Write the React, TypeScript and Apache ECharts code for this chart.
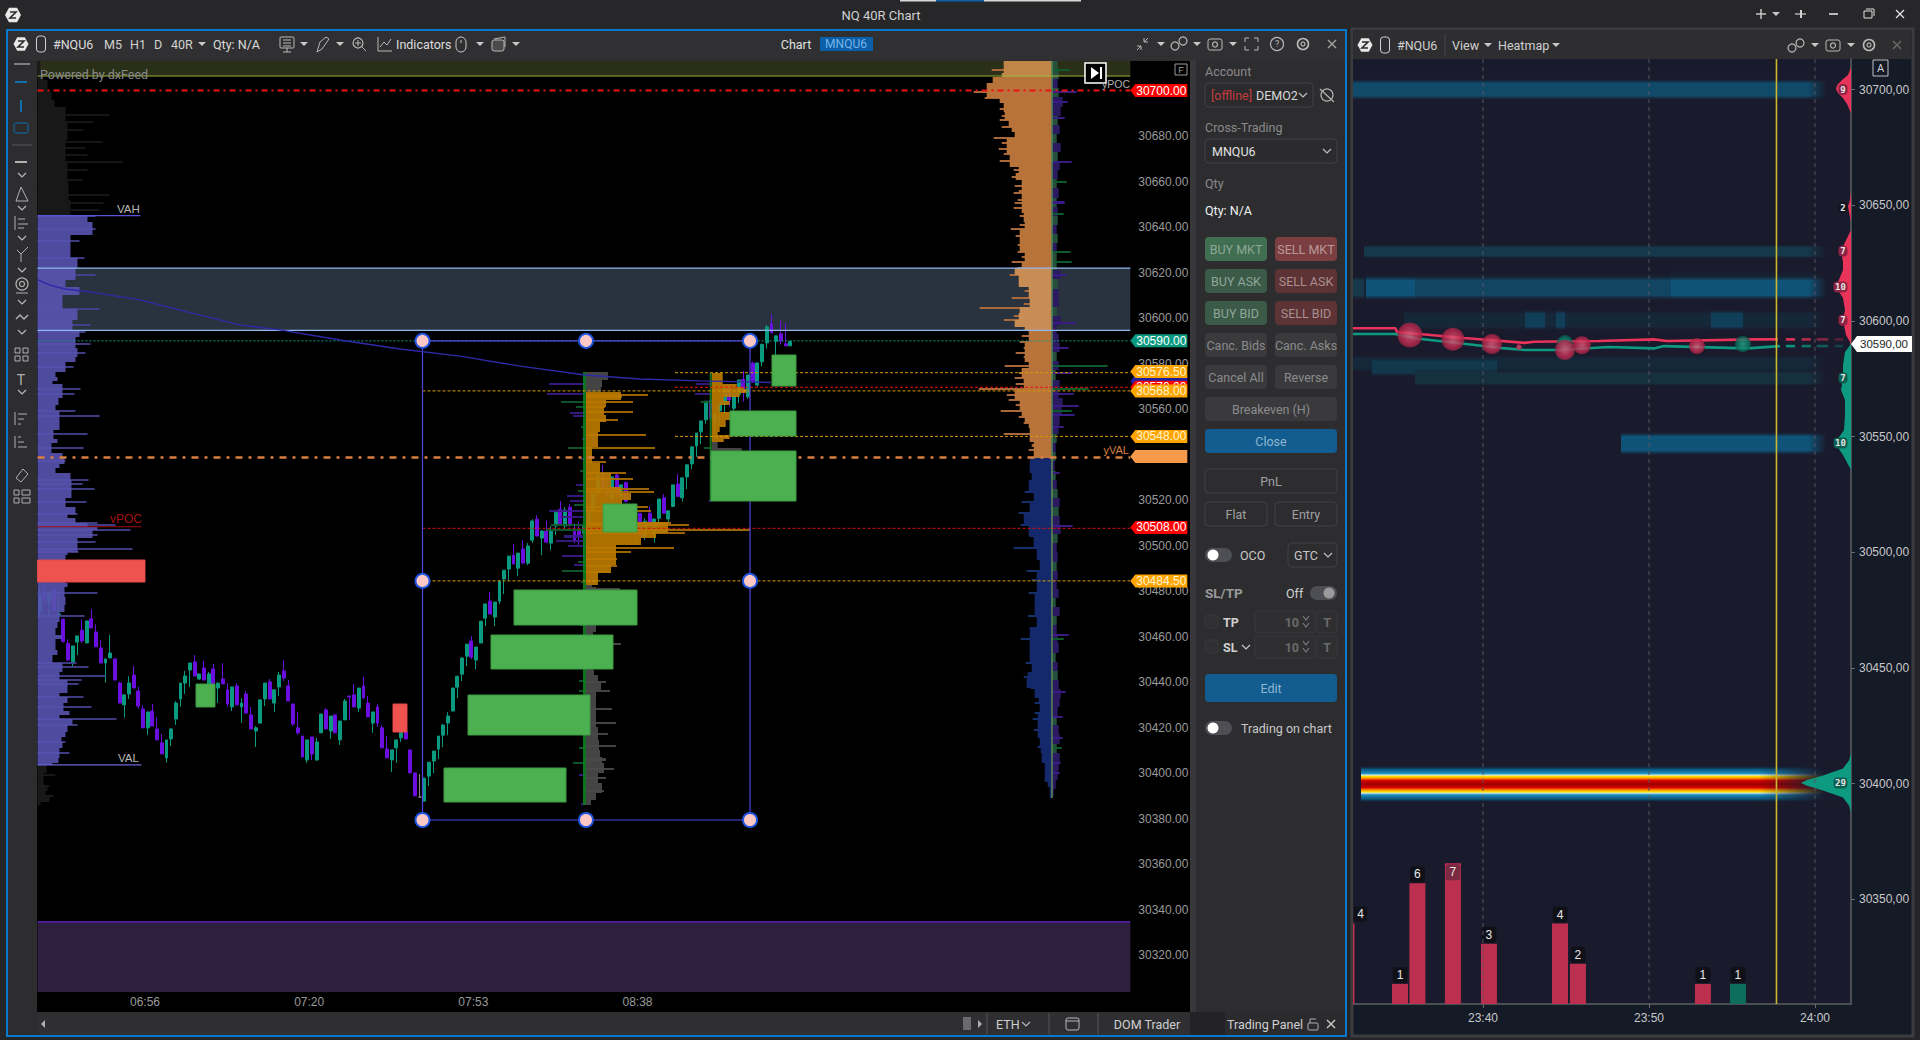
import React, { useEffect, useRef } from "react";
import * as echarts from "echarts";

/* ---------- main chart: candles [open, close, low, high] ---------- */
const candles: number[][] = [
[30471,30477.9,30468.8,30482],[30479,30476.1,30473.9,30483.7],[30475.2,30478.7,30469.5,30479.8],[30480.2,30471.7,30471,30480.8],[30469.7,30470,30468.1,30478.3],
[30467.6,30457.8,30457.4,30468.1],[30457.1,30449.7,30449.4,30458.8],[30448.6,30455.9,30446.5,30455.9],[30457.6,30460.3,30451.9,30460.3],[30462.8,30458.1,30457.1,30467.6],
[30457.2,30466.9,30457.2,30466.9],[30467.8,30463.8,30463.8,30472],[30462,30455.5,30455.5,30465.4],[30455,30448.4,30448.4,30458.5],[30448.4,30450.2,30439.8,30450.2],
[30450.6,30452.8,30450.6,30460.7],[30450.2,30440.9,30440.9,30450.2],[30439.6,30430.8,30430.8,30440.2],[30430,30434.4,30424.4,30434.4],[30434.8,30439.6,30432.6,30442.6],
[30443.1,30437.4,30437.4,30447.1],[30436.1,30429.5,30428.3,30438],[30428.2,30419.9,30419.9,30429.8],[30419.9,30426.9,30416.8,30426.9],[30427.3,30420.7,30420.7,30430.4],
[30419.4,30414.6,30414.6,30424.5],[30413.3,30408.4,30408.4,30417.2],[30406.7,30414.6,30404.6,30414.6],[30415,30419.4,30411.9,30419.7],[30423.8,30430.8,30421.2,30431.7],
[30432.6,30439.6,30429.1,30439.6],[30439.6,30442.7,30434.8,30444.9],[30445.3,30448.4,30437.9,30448.4],[30448.9,30442.7,30442.7,30451.9],[30441.4,30443.6,30440.9,30443.6],
[30446.2,30440.9,30440.9,30449.3],[30438.8,30443.6,30438.8,30444.5],[30445.8,30439.2,30439.2,30448],[30437.4,30439.6,30430.8,30439.6],[30441.4,30439.2,30439.2,30448.4],
[30436.6,30430.4,30429.1,30439.6],[30429.1,30437.9,30427.3,30437.9],[30438.3,30430,30430,30439.6],[30429.1,30430.8,30422,30432.9],[30434.8,30426.4,30426.4,30436.1],
[30425.6,30419.4,30419.4,30429.1],[30418.5,30419.9,30411.5,30420.7],[30422,30432.2,30422,30432.2],[30432.6,30439.6,30429.5,30439.6],[30440.1,30432.6,30432.6,30441.4],
[30430.8,30436.6,30426.9,30436.6],[30437.9,30443.1,30433.9,30444.5],[30444.9,30441.8,30440.5,30449.7],[30438.3,30431.7,30431.7,30440.9],[30430.4,30421.6,30420.7,30430.4],
[30419.9,30417.7,30416.8,30426.9],[30416.3,30407.1,30407.1,30416.3],[30405.8,30414.6,30404.5,30414.6],[30415.9,30408.4,30405.8,30415.9],[30405.8,30413.7,30405.3,30415.5],
[30417.7,30426,30417.7,30426],[30427.8,30419.4,30419.4,30428.6],[30418.5,30425.1,30415,30425.1],[30425.6,30417.7,30417.7,30425.6],[30414.6,30422.9,30412.4,30422.9],
[30423.4,30431.7,30423.4,30432.6],[30433.9,30433.5,30423.4,30433.9],[30434.4,30429.1,30429.1,30439.2],[30428.6,30437.4,30426.9,30437.4],[30438.3,30433,30433,30442.3],
[30430.8,30424.7,30424.7,30433.9],[30422,30426.9,30417.7,30426.9],[30429.1,30422,30420.3,30430.4],[30419.9,30411.1,30411.1,30421.2],[30410.6,30406.7,30406.7,30416.3],
[30405.8,30410.2,30400.5,30410.2],[30411.1,30414.6,30404.5,30414.6],[30415.5,30418.2,30413.7,30418.2],[30418.2,30415,30415,30418.2],[30410.2,30400.1,30400.1,30410.2],
[30400.1,30390,30390,30400.1],[30389.5,30389.5,30389.5,30399.6],[30387.7,30397.8,30387.7,30397.8],[30398.7,30404.8,30394.3,30404.8],[30405.3,30409.7,30400,30409.7],
[30410.6,30416.3,30406.2,30416.3],[30416.7,30421.1,30411.4,30421.6],[30422,30425.1,30416.7,30426.8],[30427.3,30437.4,30427.3,30437.4],[30437.8,30442.6,30433,30442.6],
[30443.5,30450.6,30440.4,30451],[30451.4,30456.7,30447,30456.7],[30458,30451,30450.1,30460.2],[30449.7,30455.4,30445.7,30455.4],[30457.2,30466.8,30457.2,30466.8],
[30468.1,30474.3,30464.6,30474.7],[30475.6,30469.9,30469.9,30479.6],[30468.6,30475.2,30464.6,30475.2],[30475.6,30484.4,30474.3,30484.8],[30485.3,30489.2,30478.7,30489.2],
[30489.7,30495.4,30484.8,30495.4],[30495.8,30491.9,30491.9,30500.7],[30490.1,30496.7,30486.6,30496.7],[30498.5,30492.3,30492.3,30502.4],[30492.3,30499.8,30491.4,30501.1],
[30502.4,30510.8,30501.1,30511.6],[30511.6,30504.2,30504.2,30513.4],[30503.3,30506.4,30495.8,30506.8],[30506.4,30501.5,30501.5,30511.2],[30501.1,30506.8,30498,30508.6],
[30508.6,30514.7,30504.6,30514.7],[30516,30509.5,30509.5,30519.6],[30508.6,30515.6,30507.5,30516.9],[30516.9,30509,30508.3,30518.2],[30506.2,30502.5,30501,30509.8],
[30506.9,30504,30500.3,30510.6],[30505.4,30508.4,30495.2,30508.4],[30506.9,30515.7,30505.4,30515.7],[30516.1,30522.7,30513.5,30522.7],[30524.2,30530.6,30521.6,30532.6],
[30531.8,30525.2,30524.5,30535.5],[30525.2,30521.9,30521.6,30530.6],[30520.7,30530.2,30520.7,30530.2],[30531,30522.7,30521.6,30531.5],[30521.6,30526.7,30518.6,30526.7],
[30527.7,30519.4,30519,30528.2],[30506.9,30514.2,30505.4,30514.2],[30506.2,30509.8,30502.5,30509.8],[30514.2,30504.7,30504.7,30514.2],[30504.3,30510.7,30502.5,30512],
[30514.2,30509.8,30508.4,30517.2],[30504.7,30511.7,30501.3,30511.7],[30512,30520.5,30510.1,30520.5],[30521,30514.2,30514.2,30522.6],[30511.7,30515.3,30510.1,30515.3],
[30517.2,30526.7,30517.2,30526.7],[30527.1,30521.6,30521.6,30531.4],[30521,30529.8,30519.4,30529.8],[30530.2,30535.5,30524.9,30535.5],[30535.9,30543.4,30533.6,30543.4],
[30543.8,30549.5,30539,30549.5],[30550,30554.8,30544.6,30554.8],[30555.3,30563.5,30553.5,30563.5],[30564,30555.7,30555.2,30564.8],[30554.1,30557.8,30546.8,30557.8],
[30559.2,30562.3,30553,30562.3],[30562.3,30569.3,30557.5,30569.3],[30570.6,30564,30561,30570.6],[30560.4,30566,30558.9,30566],[30566.5,30572.8,30562.6,30572.8],
[30573.1,30568.2,30563.3,30576.8],[30565.4,30575,30564.5,30575],[30580.2,30572.1,30571.6,30580.9],[30570.6,30580.3,30569.8,30580.3],[30580.8,30588.5,30578.7,30588.5],
[30589.1,30596.1,30586.6,30597],[30597.5,30593.5,30593.5,30601.8],[30589.8,30592.2,30583.8,30592.2],[30593.1,30590,30588.4,30598.8],[30588.7,30587.8,30587.8,30597.7],
[30587.8,30589.8,30587.8,30589.8],
];
const timeLabels: Record<number, string> = { 22: "06:56", 57: "07:20", 92: "07:53", 127: "08:38" };
const priceTicks = [30680,30660,30640,30620,30600,30580,30560,30520,30500,30480,30460,30440,30420,30400,30380,30360,30340,30320];

/* shaded zones [pTop, pBottom, colour] */
const zones: [number, number, string][] = [
  [30713, 30706.4, "#2a3018"], [30622, 30594.6, "#29333f"], [30334.6, 30303.8, "#2d1f3d"],
];

/* left profile */
const leftGrayBody: [number, number][] = [[30713,3],[30709,6],[30704.7,10],[30699.4,14],[30695.9,17],[30692.8,28],[30686.2,30],[30678.3,28],[30668.6,30],[30660,31],[30652,33]];
const leftGraySpikes: [number, number][] = [[30689.3,72],[30686.2,56],[30682.7,46],[30677.4,65],[30674.8,48],[30671.7,50],[30668.6,85],[30665,50],[30660.7,45],[30654.1,72],[30650.6,66],[30647.5,62]];
const leftBlueBody: [number, number][] = [[30644.9,50],[30642.2,55],[30639.2,55],[30636.5,33],[30630.8,33],[30626.4,40],[30622,38],[30616.7,28],[30613.7,42],[30610.2,25],[30604,40],[30599.2,35],[30594.3,42],[30591.8,38],[30586.7,40],[30583,38],[30580.9,28],[30576.5,18],[30574.3,20],[30572.5,15],[30571,25],[30564.7,21],[30561.8,18],[30559.2,22],[30555.2,22],[30553,22],[30550.8,16],[30546.9,20],[30545,14],[30540.6,25],[30539.1,27],[30535.7,22],[30534.3,18],[30531.8,33],[30528.8,34],[30522.3,34],[30520.8,28],[30517.1,38],[30513.8,30],[30512,38],[30510.1,50],[30508.3,60],[30506.9,55],[30503.5,40],[30500.3,40],[30497.3,30],[30495.9,28],[30483.4,30],[30482,27],[30477.6,28],[30473.9,27],[30471,22],[30466.6,20],[30463.9,18],[30460.7,24],[30458.8,18],[30454.1,20],[30451.9,15],[30448.5,25],[30444.3,22],[30440.9,30],[30435.4,22],[30433.6,30],[30430.7,26],[30427.3,32],[30425.5,22],[30423.6,35],[30421.1,30],[30418.2,28],[30416,24],[30413.8,25],[30410.9,22],[30406.5,21],[30404.6,15]];
const leftBlueSpikes: [number, number][] = [[30644.9,58],[30639.2,58],[30634,42],[30626.4,47],[30618.9,58],[30604,62],[30597,53],[30594,48],[30588.6,53],[30584.8,48],[30578.7,36],[30568.7,43],[30566.6,37],[30559.2,38],[30557,62],[30548.9,50],[30542.8,46],[30537.2,28],[30528.8,51],[30527,45],[30524.8,57],[30519,49],[30513.9,40],[30510.1,60],[30509.1,78],[30506.9,93],[30504.7,60],[30501.7,58],[30498.7,95],[30497.3,41],[30479,60],[30469,47],[30448.5,39],[30446.5,51],[30442.8,68],[30440.9,44],[30439,41],[30433.6,46],[30428.9,54],[30423.6,79],[30421.1,40],[30413.8,28],[30408.7,32]];
const leftLowerBody: [number, number][] = [[30403.6,9],[30400,6],[30396.2,6],[30394.3,10],[30392.3,8],[30390,12],[30387.5,3],[30386,1]];
const leftLowerSpikes: [number, number][] = [[30399.2,18],[30394.3,12],[30390,16]];

/* centre profile 1 */
const c1GrayTop: [number, number][] = [[30576.3,22],[30572.8,16],[30569.6,15]];
const c1Orange: [number, number][] = [[30567.4,35],[30564,20],[30561.1,18],[30557.4,20],[30554.5,14],[30550.1,12],[30546.4,12],[30543.5,6],[30540.6,6],[30536.2,14],[30532.1,25],[30525.9,35],[30523,45],[30520.1,36],[30515.6,45],[30510.5,82],[30505.4,70],[30503.2,55],[30500.3,30],[30495.1,30],[30491.5,25],[30487.8,12]];
const c1OrangeSpikes: [number, number][] = [[30566.2,62],[30565.5,36],[30563.3,47],[30561,19],[30558.9,47],[30555.2,32],[30548.8,60],[30542.8,69],[30536.9,20],[30531.8,40],[30529.3,47],[30524.7,63],[30523.4,68],[30516.8,62],[30515.2,65],[30509.8,85],[30509,103],[30506.9,164],[30505.4,99],[30498.8,88],[30497,45],[30494,31],[30491.2,31],[30488.6,24]];
const c1GrayLow: [number, number][] = [[30482.7,6],[30481.6,10],[30476,12],[30465,10],[30462.2,7],[30445.3,8],[30443,12],[30440.2,15],[30436.5,10],[30429.2,10],[30420.4,12],[30414.6,13],[30410.2,14],[30407.2,16],[30404.3,18],[30399.9,12],[30395.5,16],[30391.1,10],[30388,5]];
const c1GraySpikes: [number, number][] = [[30481,34],[30456.6,35],[30440.2,20],[30436,24],[30428,26],[30422,30],[30417,22],[30412,30],[30406,20],[30402,28],[30398,20],[30392,18]];
const c1Delta: [number, number, string][] = [[30570.9,37,"p"],[30566.5,39,"p"],[30563.3,25,"g"],[30561,10,"g"],[30558.2,16,"p"],[30557,13,"p"],[30552,5,"g"],[30547,4,"p"],[30543.1,18,"g"],[30538,5,"p"],[30533,6,"g"],[30526.7,10,"p"],[30524,8,"g"],[30522,19,"p"],[30519.6,16,"p"],[30518,12,"g"],[30515.2,37,"p"],[30512.7,25,"p"],[30509,35,"g"],[30506.9,40,"g"],[30504,22,"p"],[30502.2,30,"p"],[30500,18,"p"],[30495.6,24,"p"],[30493,8,"g"],[30491.5,12,"p"],[30488.8,24,"g"],[30484,5,"g"],[30465,6,"g"],[30440.5,7,"g"],[30436,7,"g"],[30430,5,"p"],[30420,4,"g"],[30411,7,"g"],[30404.6,13,"g"],[30399,7,"p"],[30393,3,"g"],[30386.5,5,"p"]];

/* centre profile 2 */
const c2Orange: [number, number][] = [[30575.7,11],[30572.8,11],[30570.9,25],[30569.6,32],[30568.7,35],[30567,28],[30565.5,12],[30563.6,18],[30561.8,8],[30558.9,20],[30555.2,14],[30552.3,8],[30550.1,6],[30548.6,18],[30546.7,12]];
const c2Gray: [number, number][] = [[30545.5,6],[30542.8,30],[30541.7,8],[30530,6]];
const c2Delta: [number, number, string][] = [[30570.9,16,"p"],[30566.5,17,"p"],[30563.3,11,"g"],[30560,3,"p"],[30556,3,"p"],[30542.8,8,"g"],[30519.6,3,"p"]];

/* right profile */
const rightBody: [number, number][] = [[30713,48],[30707.6,50],[30706.1,59],[30703.2,65],[30696.6,52],[30694.4,48],[30690.7,47],[30687.1,43],[30684.2,40],[30682,37],[30679,45],[30671.7,42],[30666.6,33],[30663.6,36],[30660.7,30],[30646,28],[30642.4,27],[30639,32],[30628.9,27],[30624.8,30],[30622,37],[30619,33],[30613.8,23],[30608.7,22],[30605,32],[30602.1,33],[30599.2,37],[30596.2,27],[30594.6,23],[30589.6,27],[30580.8,23],[30577.9,30],[30573.5,28],[30568.7,37],[30564,32],[30559.2,30],[30556.7,27],[30553.8,23],[30551.5,22],[30545.7,18],[30538.7,22],[30531.8,20],[30528.8,23],[30523.7,18],[30519.3,22],[30514.2,28],[30509,23],[30504.2,18],[30498.8,15],[30493.7,12],[30489,15],[30479,17],[30469,15],[30464.4,22],[30453.4,22],[30448.5,20],[30444.6,24],[30442.1,25],[30437.3,17],[30432.9,13],[30430.7,12],[30426.3,14],[30415.3,12],[30411.6,11],[30408.7,10],[30404.3,7],[30399.2,7],[30396.2,4],[30394,2]];
const rightSpikes: [number, number][] = [[30709,60],[30699.2,78],[30696.6,67],[30692,52],[30689,50],[30687.1,52],[30684.2,50],[30679,58],[30677,50],[30674.2,53],[30672,48],[30669.2,52],[30665,38],[30662,40],[30658.2,37],[30656,33],[30654.8,38],[30652,34],[30650.4,37],[30648.2,38],[30645,32],[30641,32],[30639,41],[30636,36],[30632,34],[30628.9,34],[30627,30],[30624.8,40],[30622,34],[30619,42],[30616,30],[30612,27],[30608.7,40],[30606,28],[30604.3,72],[30601,38],[30599.2,48],[30597,32],[30592,30],[30589.6,32],[30587,28],[30584.5,36],[30583,28],[30579,47],[30576,33],[30573.5,37],[30571,36],[30568.7,73],[30566.2,45],[30564,43],[30562,36],[30559.2,51],[30556.7,33],[30554,28],[30549,48],[30547,22],[30544,20],[30542,23],[30523.7,27],[30519.3,30],[30514.2,33],[30509,31],[30504.2,22],[30498.8,38],[30489,25],[30484.9,20],[30479,23],[30469,24],[30458.8,31],[30448.5,26],[30442.1,28],[30437.3,21],[30430.7,17],[30426.3,17],[30423.6,19],[30418.9,18],[30411.6,14]];
const rightDelta: [number, number, string][] = [[30713,6,"g"],[30709,7,"g"],[30705,6,"p"],[30701,7,"g"],[30697,11,"p"],[30693,9,"p"],[30689,6,"g"],[30685,8,"p"],[30681,5,"g"],[30677,9,"p"],[30673,6,"g"],[30669,8,"p"],[30665,6,"p"],[30661,5,"g"],[30657,7,"p"],[30653,5,"g"],[30649,6,"p"],[30645,6,"g"],[30641,5,"p"],[30637,6,"g"],[30633,5,"p"],[30629,5,"g"],[30625,5,"g"],[30621,9,"p"],[30617,6,"g"],[30613,7,"p"],[30609,7,"p"],[30605,5,"g"],[30601,9,"p"],[30597,5,"p"],[30593,7,"p"],[30589,8,"p"],[30585,5,"g"],[30581,7,"p"],[30577,4,"g"],[30573,8,"p"],[30569,7,"p"],[30565,11,"p"],[30561,10,"p"],[30557,8,"p"],[30553,7,"p"],[30549,5,"g"],[30545,4,"p"],[30541,4,"g"],[30537,3,"p"],[30533,4,"g"],[30529,5,"p"],[30525,6,"g"],[30521,8,"p"],[30517,7,"g"],[30513,8,"p"],[30509,9,"p"],[30505,6,"g"],[30501,5,"p"],[30497,6,"p"],[30493,5,"g"],[30489,6,"p"],[30485,5,"p"],[30481,7,"p"],[30477,4,"g"],[30473,8,"p"],[30469,5,"g"],[30465,5,"p"],[30461,6,"p"],[30457,7,"p"],[30453,4,"g"],[30449,6,"p"],[30445,6,"g"],[30441,7,"p"],[30437,9,"p"],[30433,8,"p"],[30429,6,"p"],[30425,5,"g"],[30421,7,"p"],[30417,8,"p"],[30413,5,"g"],[30409,8,"p"],[30405,7,"p"],[30401,6,"p"],[30397,4,"p"],[30393,2,"p"],[30390,1,"p"]];
const rightDeltaSpikes: [number, number, string][] = [[30709,18,"g"],[30699.2,25,"p"],[30695,16,"p"],[30688,13,"p"],[30668.8,20,"p"],[30660,15,"g"],[30650.8,13,"p"],[30645.7,12,"g"],[30629,19,"g"],[30624.8,20,"g"],[30619,15,"p"],[30598,24,"p"],[30586.7,17,"p"],[30579,56,"g"],[30576,20,"p"],[30568.7,37,"g"],[30566.5,22,"p"],[30561.4,27,"p"],[30559.2,20,"g"],[30557.4,23,"p"],[30552.3,12,"p"],[30531.8,8,"p"],[30508.8,21,"p"],[30460.7,17,"p"],[30458.8,12,"g"],[30435.8,14,"p"],[30424.8,11,"p"],[30415.3,11,"p"],[30411,10,"g"],[30404.6,9,"p"],[30399.9,8,"p"]];

const boxes: [number, number, number, number, string][] = [
  [734.5,758.5,30583.8,30570.2,"g"],[692.5,758.5,30559.2,30548.2,"g"],[673.5,758.5,30541.6,30519.6,"g"],[565.5,599.5,30518.3,30506,"g"],
  [476.5,599.5,30480.5,30465.1,"g"],[453.5,575.5,30460.7,30445.8,"g"],[430.5,552.5,30434.3,30416.7,"g"],[406.5,528.5,30402.2,30387.3,"g"],
  [158.5,177.5,30439.1,30429,"g"],[355.5,369.5,30430.4,30418,"r"],[0,107.5,30493.7,30484,"r"],
];
const vwap: [number, number][] = [[0.5,30616.8],[12.5,30614.5],[27.5,30612.8],[52.5,30611.5],[102.5,30608],[142.5,30603.5],[202.5,30597],[242.5,30594.8],[302.5,30590.4],[362.5,30586.4],[422.5,30583.3],[482.5,30578.9],[547.5,30575],[602.5,30573.2],[662.5,30572.4],[733.5,30571.7]];
/* segments [x0, p0, x1, p1, colour, width, dash] */
const FW = 1092.8;
const ORG = "#d99a00", RED = "#ee1111", SEL = "#4f46e5";
const segments: any[][] = [
  [0,30706.4,FW,30706.4,"#9ab23c",1,0],[0,30622,FW,30622,"#8fb8ee",1.2,0],[0,30594.6,FW,30594.6,"#8fb8ee",1.2,0],[0,30334.6,FW,30334.6,"#6d1fd8",1.2,0],
  [0,30700,FW,30700,RED,2,[6,4,2,4]],[0,30590,FW,30590,"#0e9a80",1,[2,2]],
  [637.5,30576,FW,30576,ORG,1,[3,2]],[637.5,30569.6,FW,30569.6,RED,1,[3,2]],[385,30568,FW,30568,ORG,1,[3,2]],[637.5,30548,FW,30548,ORG,1,[3,2]],
  [0,30538.7,FW,30538.7,"#d98040",2.5,[7,6,3,6]],[385,30507.6,FW,30507.6,"#d01010",1,[3,2]],[385,30484.5,FW,30484.5,ORG,1,[3,2]],
  [0,30645,103,30645,"#5a55d8",1.2,0],[0,30403.6,104,30403.6,"#6a65d8",1.2,0],[0,30508.3,104,30508.3,"#a00c0c",1.2,0],
  [385,30590,712.5,30590,SEL,1.2,0],[385,30379.4,712.5,30379.4,SEL,1.2,0],[385,30590,385,30379.4,SEL,1.2,0],[712.5,30590,712.5,30379.4,SEL,1.2,0],
];
const handles: number[][] = [[385,30590],[548.5,30590],[712.5,30590],[385,30484.5],[712.5,30484.5],[385,30379.4],[548.5,30379.4],[712.5,30379.4]];
const priceTags: [number, string, string, string][] = [
  [30700,"30700.00","#ff0000","#ffffff"],[30590,"30590.00","#0a9a80","#ffffff"],[30572.2,"","#2020a0","#ffffff"],[30569.6,"30570.00","#ff0000","#ffffff"],
  [30576.5,"30576.50","#ffa500","#fff3d0"],[30568,"30568.00","#ffa500","#fff3d0"],[30548,"30548.00","#ffa500","#fff3d0"],[30539.2,"","#f59a4a","#ffffff"],
  [30508,"30508.00","#ff0000","#ffffff"],[30484.5,"30484.50","#ffa500","#fff3d0"],
];

/* heatmap panel */
const heatTicks = [30700,30650,30600,30550,30500,30450,30400,30350];
const heatTimes = [1420,1430,1440];
const heatBands: [number, number, number, number, string][] = [
  [0,472,30705,30695,"#104a68"],[11,472,30633.3,30626.6,"#15384a"],[11,318,30622,30607.2,"#162233"],[318,472,30623,30609,"#162233"],
  [0,11,30620,30608.5,"#16384a"],[13,62,30620,30608.5,"#0f5478"],[62,318,30620,30608.5,"#114562"],[318,472,30620,30608.5,"#0f5478"],
  [51,472,30605.2,30595.5,"#15283a"],[172,192,30605.2,30595.5,"#113f5a"],[203,212,30605.2,30595.5,"#113f5a"],[358,390,30605.2,30595.5,"#113f5a"],
  [0,472,30585.7,30577.4,"#15283a"],[19,144,30584.5,30575.6,"#12384e"],[62,472,30579.2,30571.3,"#16303f"],[268,472,30552.4,30541.5,"#0f5478"],
];
const bigBand: [number, number, number, number] = [8,482,30407.5,30392];
const bidLine: [number, number][] = [[1412.17,30596.8],[1414.73,30596.8],[1414.82,30595.2],[1418.86,30592.6],[1422.53,30590.5],[1423.07,30591],[1426.99,30591.3],[1430.3,30592],[1431.08,30591.3],[1436.33,30592],[1437.77,30592]];
const askLine: [number, number][] = [[1412.17,30594.3],[1414.7,30594.3],[1416,30592.4],[1418.98,30590],[1421.2,30588.2],[1422.53,30587.4],[1424.76,30587.4],[1427.53,30588.7],[1430.3,30588.1],[1430.9,30589.1],[1435.9,30588.1],[1437.89,30589.1]];
/* fading dashes after the last quote: [t0, t1, opacity] */
const tailDashes: [number, number, number][] = [[1438.25,1438.8,0.95],[1439.2,1439.75,0.75],[1440.1,1440.8,0.5],[1441.2,1441.7,0.3]];
const bidTailPrice = 30592, askTailPrice = 30589.1;
const bubbles: [number, number, number, string][] = [
  [1415.6,30593.9,25,"r"],[1418.19,30592.1,23,"r"],[1420.54,30590,20,"r"],[1422.17,30588.7,6,"r"],[1424.94,30590.4,16,"g"],[1424.94,30587.4,20,"r"],[1425.96,30589.5,18,"r"],[1432.89,30589.1,16,"r"],[1435.66,30590,16,"g"],
];
const edgeBar: [number, number] = [1412.17, 4];
const tradeBars: [number, number, string][] = [[1415,1,"r"],[1416.05,6,"r"],[1418.19,7,"r"],[1420.36,3,"r"],[1424.64,4,"r"],[1425.72,2,"r"],[1433.25,1,"r"],[1435.36,1,"g"]];
const domAsk1: [number, number][] = [[30709.7,0],[30706.3,3],[30704.1,9],[30701.9,14],[30700.2,15],[30698.5,13],[30696.3,8],[30693.7,4],[30689.8,0]];
const domAsk2: [number, number][] = [[30656.6,0],[30652.2,1],[30649.6,3],[30647,2],[30642.7,0]];
const domAsk3: [number, number][] = [[30639.3,0],[30634.9,5],[30630.2,10],[30625.4,8],[30622,8],[30614.6,15],[30609.9,8],[30604.7,6],[30600.3,8],[30593.9,5],[30590,0]];
const domBid1: [number, number][] = [[30590,0],[30586.5,6],[30580.9,8],[30575.3,8],[30570.1,10],[30565.8,6],[30559.3,6],[30552.8,7],[30547.2,16],[30542,8],[30535.5,0]];
const domBid2: [number, number][] = [[30413.1,0],[30410,2],[30406.5,8],[30403.5,28],[30401.5,44],[30400.2,50],[30399,44],[30397,28],[30394,8],[30390.5,2],[30387.2,0]];
const domBadges: [number, string, string][] = [[30700,"9","#8e2444"],[30649,"2","#14141c"],[30630.2,"7","#8e2444"],[30614.6,"10","#8e2444"],[30600.3,"7","#8e2444"],[30575.3,"7","#0c5f50"],[30547.2,"10","#0c5f50"],[30400.2,"29","#0c5f50"]];

/* ---------- drawing helpers ---------- */
const UI = 'Roboto, sans-serif';
const ARIAL = '"Liberation Sans", Arial, sans-serif';
const PURPLE = "#3a1a85", GREEN = "#0f5a2c";

type Rect = [number, number, number, number, string];
const steps = (rows: any[], end: number, origin: number, dir: number, colour: (p: number) => string): Rect[] =>
  rows.map((r, i) => [origin, origin + dir * r[1], r[0], i + 1 < rows.length ? rows[i + 1][0] : end, colour(r[0])] as Rect);
const spikes = (rows: any[], origin: number, dir: number, colour: (p: number, k?: string) => string): Rect[] =>
  rows.map((r) => [origin, origin + dir * r[1], r[0] + 0.45, r[0] - 0.45, colour(r[0], r[2])] as Rect);

function rectSeries(rows: Rect[], z: number, xAxisIndex = 1, yAxisIndex = 0, opacity = 1, extra: any = {}) {
  return {
    type: "custom", coordinateSystem: "cartesian2d", xAxisIndex, yAxisIndex, z, silent: true, clip: true,
    data: rows.map((r) => [r[0], r[2], r[1], r[3]]),
    renderItem: (p: any, api: any) => {
      const r = rows[p.dataIndex];
      const a = api.coord([r[0], r[2]]), b = api.coord([r[1], r[3]]);
      const y0 = Math.round(a[1]), y1 = Math.round(b[1]);
      return { type: "rect", shape: { x: Math.min(a[0], b[0]), y: y0, width: Math.abs(b[0] - a[0]), height: Math.max(y1 - y0, 1) },
        style: { fill: extra.fill ? extra.fill(r) : r[4], opacity, stroke: extra.stroke ? extra.stroke(r) : undefined, lineWidth: extra.stroke ? 1 : 0 } };
    },
  };
}

function polySeries(rows: [number, number][], fill: string, z: number) {
  return {
    type: "custom", coordinateSystem: "cartesian2d", xAxisIndex: 3, yAxisIndex: 1, z, silent: true,
    data: [[498, rows[0][0]]],
    renderItem: (_p: any, api: any) => ({
      type: "polygon",
      shape: { points: rows.map((r) => api.coord([498 - r[1], r[0]])) },
      style: { fill },
    }),
  };
}

function buildChrome() {
  const els: any[] = [];
  const base = (z: number) => ({ z, silent: true });
  const R = (x: number, y: number, w: number, h: number, fill: string, stroke?: string, r = 0, z = -1, lw = 1) =>
    els.push({ type: "rect", ...base(z), shape: { x, y, width: w, height: h, r }, style: { fill, stroke, lineWidth: stroke ? lw : 0 } });
  const T = (x: number, y: number, text: string, size = 12, fill = "#c8c8c8", align = "left", weight = "normal", font = UI, z = -1) =>
    els.push({ type: "text", ...base(z), x, y, style: { text, fill, font: `${weight} ${size}px ${font}`, align, textAlign: align, verticalAlign: "middle", textVerticalAlign: "middle" } });
  const L = (pts: number[][], stroke = "#b8b8b8", lw = 1, z = -1) =>
    els.push({ type: "polyline", ...base(z), shape: { points: pts }, style: { stroke, lineWidth: lw, fill: "none" } });
  const C = (x: number, y: number, r: number, stroke = "#b8b8b8", fill = "none", lw = 1.2, z = -1) =>
    els.push({ type: "circle", ...base(z), shape: { cx: x, cy: y, r }, style: { stroke, fill, lineWidth: lw } });
  const tri = (x: number, y: number, c = "#c8c8c8") =>
    els.push({ type: "polygon", ...base(-1), shape: { points: [[x - 4, y - 2], [x + 4, y - 2], [x, y + 2]] }, style: { fill: c } });
  const chev = (x: number, y: number, c = "#b8b8b8", s = 4) => L([[x - s, y - 2], [x, y + 2], [x + s, y - 2]], c, 1.2);
  const logo = (x: number, y: number, s = 9) => {
    els.push({ type: "polygon", ...base(-1), shape: { points: [[x - s, y], [x - s / 2, y - s * 0.9], [x + s / 2, y - s * 0.9], [x + s, y], [x + s / 2, y + s * 0.9], [x - s / 2, y + s * 0.9]] }, style: { fill: "#e8e8e8" } });
    L([[x - 3, y - 3], [x + 3, y - 3], [x - 3, y + 3], [x + 3, y + 3]], "#2a2a2c", 1.6);
  };
  const phone = (x: number, y: number) => R(x - 4.5, y - 8, 9, 16, "none", "#d0d0d0", 3);

  /* frame */
  R(0, 0, 1920, 30, "#272729");
  R(900, 0, 36, 1.5, "#d8d8d8"); R(936, 0, 48, 1.5, "#0a5fa8"); R(984, 0, 97, 1.5, "#d8d8d8");
  logo(13, 15, 8);
  T(881, 15, "NQ 40R Chart", 13, "#d0d0d0", "center");
  L([[1756, 14], [1766, 14]], "#d0d0d0", 1.4); L([[1761, 9], [1761, 19]], "#d0d0d0", 1.4); tri(1776, 14);
  L([[1795, 14], [1806, 14]], "#d0d0d0", 1.2); L([[1801, 10], [1801, 18]], "#d0d0d0", 2);
  L([[1829, 14], [1838, 14]], "#e0e0e0", 1.6);
  R(1864, 11, 8, 7, "none", "#e0e0e0"); L([[1866, 9], [1874, 9], [1874, 16]], "#e0e0e0", 1);
  L([[1896, 10], [1904, 18]], "#e0e0e0", 1.3); L([[1904, 10], [1896, 18]], "#e0e0e0", 1.3);

  /* main window */
  R(7, 30, 1339, 1006, "#2d2d30", "#0a78cc", 0, -1, 2);
  R(8, 32, 1337, 28, "#303033");
  R(37, 61, 1153, 951, "#000000");
  R(1190, 60, 6, 952, "#38383b");
  R(38, 1012, 1152, 23, "#2f2f32"); R(1190, 1012, 155, 23, "#2b2b2e");
  R(1190, 1012, 35, 23, "#232325");

  logo(21, 44, 7.5); phone(41, 44);
  T(53, 44, "#NQU6", 12.5, "#dcdcdc");
  T(104, 44, "M5", 12.5, "#d0d0d0"); T(130, 44, "H1", 12.5, "#d0d0d0"); T(154, 44, "D", 12.5, "#d0d0d0"); T(171, 44, "40R", 12.5, "#d0d0d0"); tri(202, 44);
  T(213, 44, "Qty: N/A", 12.5, "#dcdcdc");
  R(280, 37, 14, 11, "none", "#b8b8b8", 1); L([[287, 48], [287, 52]]); L([[283, 52], [291, 52]]); L([[283, 40], [291, 40]]); L([[283, 43], [291, 43]]); L([[283, 46], [291, 46]]);
  tri(304, 44); L([[317, 52], [320, 42], [326, 37], [329, 39], [322, 49], [317, 52]]); tri(340, 44);
  C(358, 43, 5); L([[362, 47], [366, 51]]); L([[355, 43], [361, 43]]); L([[358, 40], [358, 46]]);
  L([[378, 37], [378, 51], [392, 51]]); L([[380, 47], [384, 42], [387, 45], [391, 39]], "#b8b8b8");
  T(396, 44, "Indicators", 12.5, "#dcdcdc");
  R(456, 37, 10, 15, "none", "#c8c8c8", 5); L([[461, 40], [461, 43]], "#c8c8c8"); tri(480, 44);
  R(492, 40, 12, 11, "#4a4a4d", "#b8b8b8", 2); L([[494, 39], [505, 37], [505, 47]]); tri(516, 44);
  T(796, 44, "Chart", 12.5, "#e0e0e0", "center");
  R(820, 37, 53, 14, "#0a5fa8"); T(846, 44, "MNQU6", 12, "#76b4e8", "center");
  L([[1137, 50], [1141, 46]]); L([[1144, 42], [1148, 38]]); L([[1137, 46], [1141, 46], [1141, 50]]); L([[1144, 38], [1144, 42], [1148, 42]]); tri(1161, 44);
  C(1175, 46, 4); C(1183, 41, 4); tri(1197, 44);
  R(1208, 39, 14, 11, "none", "#b8b8b8", 2); C(1215, 44.5, 2.5); tri(1233, 44);
  L([[1245, 42], [1245, 38], [1249, 38]]); L([[1254, 38], [1258, 38], [1258, 42]]); L([[1245, 46], [1245, 50], [1249, 50]]); L([[1254, 50], [1258, 50], [1258, 46]]);
  C(1277, 44, 6.5); T(1277, 44, "?", 9, "#b8b8b8", "center");
  C(1303, 44, 5.5, "#b8b8b8", "none", 1.6); C(1303, 44, 2);
  L([[1328, 40], [1336, 48]], "#a0a0a0", 1.4); L([[1336, 40], [1328, 48]], "#a0a0a0", 1.4);

  /* left tool strip */
  const ic = "#b0b0b0", blue = "#0f6fb0";
  L([[14, 64], [30, 64]], "#d0d0d0", 1);
  L([[15, 82], [27, 82]], blue, 2); L([[21, 100], [21, 112]], blue, 2); R(14, 123, 14, 10, "none", blue, 1.5);
  L([[12, 145], [32, 145]], "#55555a", 1);
  L([[15, 162], [27, 162]], ic, 2); chev(22, 175);
  L([[16, 201], [28, 201], [21, 187], [16, 201]], ic); chev(22, 208);
  L([[15, 216], [15, 230]], ic); L([[18, 219], [25, 219]], ic); L([[18, 224], [28, 224]], ic); L([[18, 228], [24, 228]], ic); chev(22, 238);
  L([[21, 262], [21, 254], [17, 250]], ic); L([[21, 254], [28, 247]], ic); chev(22, 270);
  C(22, 284, 6, ic); C(22, 284, 2.5, ic); L([[16, 293], [28, 293]], ic); chev(22, 302);
  L([[16, 319], [20, 315], [24, 319], [28, 315]], ic, 1.5); chev(22, 332);
  R(15, 348, 5, 5, "none", ic); R(23, 348, 5, 5, "none", ic); R(15, 356, 5, 5, "none", ic); R(23, 356, 5, 5, "none", ic);
  T(21, 380, "T", 14, ic, "center"); chev(22, 392);
  L([[15, 412], [15, 425]], ic); L([[18, 414], [27, 414]], ic); L([[18, 419], [24, 419]], ic); L([[18, 424], [21, 424]], ic);
  L([[15, 436], [15, 448]], ic); L([[18, 437], [21, 437]], ic); L([[18, 442], [24, 442]], ic); L([[18, 447], [27, 447]], ic);
  L([[16, 478], [23, 469], [28, 474], [21, 482], [16, 478]], ic); R(14, 490, 5, 5, "none", ic); R(22, 490, 8, 5, "none", ic); R(14, 498, 5, 5, "none", ic); R(22, 498, 8, 5, "none", ic);

  /* bottom strip */
  els.push({ type: "polygon", ...base(-1), shape: { points: [[41, 1024], [45, 1020], [45, 1028]] }, style: { fill: "#b0b0b0" } });
  R(963, 1017, 8, 13, "#6a6a6d");
  els.push({ type: "polygon", ...base(-1), shape: { points: [[982, 1024], [978, 1020], [978, 1028]] }, style: { fill: "#b0b0b0" } });
  L([[987, 1013], [987, 1034]], "#55555a"); L([[1049, 1013], [1049, 1034]], "#55555a"); L([[1098, 1013], [1098, 1034]], "#55555a");
  T(996, 1024, "ETH", 12.5, "#d0d0d0"); chev(1026, 1024);
  R(1066, 1018, 13, 12, "none", "#b8b8b8", 2); L([[1066, 1021], [1079, 1021]]);
  T(1147, 1024, "DOM Trader", 12.5, "#d0d0d0", "center");
  T(1265, 1024, "Trading Panel", 12.5, "#d0d0d0", "center");
  R(1308, 1023, 10, 7, "none", "#b0b0b0", 1); L([[1310, 1023], [1310, 1019], [1316, 1019]], "#b0b0b0");
  L([[1327, 1020], [1335, 1028]], "#d0d0d0", 1.3); L([[1335, 1020], [1327, 1028]], "#d0d0d0", 1.3);

  /* trading panel */
  const grey = "#8a8a8a";
  const box = (x: number, y: number, w: number, h: number, stroke = "#424245", fill = "#2b2b2e") => R(x, y, w, h, fill, stroke, 4);
  const btn = (x: number, y: number, w: number, h: number, fill: string, text: string, col: string, stroke?: string) => {
    R(x, y, w, h, fill, stroke, 4); T(x + w / 2, y + h / 2, text, 12.5, col, "center");
  };
  T(1205, 71, "Account", 12.5, grey);
  box(1205, 83, 108, 24); T(1211, 95, "[offline]", 12.5, "#c43c3c"); T(1256, 95, "DEMO2", 12.5, "#d8d8d8"); chev(1303, 95, "#c0c0c0");
  C(1327, 95, 6, "#b0b0b0"); L([[1320, 89], [1334, 102]], "#b0b0b0", 1.3);
  T(1205, 127, "Cross-Trading", 12.5, grey);
  box(1205, 139, 132, 24); T(1212, 151, "MNQU6", 12.5, "#e0e0e0"); chev(1327, 151, "#c0c0c0");
  T(1205, 183, "Qty", 12.5, grey);
  T(1205, 210, "Qty: N/A", 12.5, "#f0f0f0");
  btn(1205, 237, 62, 24, "#3f6e51", "BUY MKT", "#8fa698"); btn(1275, 237, 62, 24, "#7c3f41", "SELL MKT", "#b89a9a");
  btn(1205, 269, 62, 24, "#3c5a48", "BUY ASK", "#8fa698"); btn(1275, 269, 62, 24, "#5d3335", "SELL ASK", "#a89090");
  btn(1205, 301, 62, 24, "#3c5a48", "BUY BID", "#8fa698"); btn(1275, 301, 62, 24, "#5d3335", "SELL BID", "#a89090");
  btn(1205, 333, 62, 24, "#3a3a3d", "Canc. Bids", "#8b8b8b"); btn(1275, 333, 62, 24, "#3a3a3d", "Canc. Asks", "#8b8b8b");
  btn(1205, 365, 62, 24, "#3a3a3d", "Cancel All", "#8b8b8b"); btn(1275, 365, 62, 24, "#3a3a3d", "Reverse", "#8b8b8b");
  btn(1205, 397, 132, 24, "#3a3a3d", "Breakeven (H)", "#8b8b8b");
  btn(1205, 429, 132, 24, "#125c90", "Close", "#8fb6d0");
  btn(1205, 469, 132, 24, "#2d2d30", "PnL", "#a0a0a0", "#424245");
  btn(1205, 502, 62, 24, "#2d2d30", "Flat", "#a0a0a0", "#424245"); btn(1275, 502, 62, 24, "#2d2d30", "Entry", "#a0a0a0", "#424245");
  const toggle = (x: number, y: number, on: boolean) => {
    R(x, y - 7, 27, 14, "#4e4e55", undefined, 7); C(on ? x + 8 : x + 19, y, 5.5, "none", on ? "#ffffff" : "#9a9a9a", 0);
  };
  toggle(1205, 555, true); T(1240, 555, "OCO", 12.5, "#c8c8c8");
  box(1288, 543, 49, 24, "#424245", "#2d2d30"); T(1294, 555, "GTC", 12.5, "#c8c8c8"); chev(1328, 555, "#c0c0c0");
  T(1205, 593, "SL/TP", 13.5, "#9a9a9a", "left", "bold"); T(1286, 593, "Off", 12.5, "#d0d0d0"); toggle(1310, 593, false);
  R(1205, 615, 13, 13, "#303033", "#38383b", 3); T(1223, 622, "TP", 12.5, "#d0d0d0", "left", "bold");
  R(1255, 611, 60, 22, "#2f2f32", "#38383b", 2); T(1299, 622, "10", 12.5, "#6a6a6a", "right", "bold");
  R(1317, 611, 20, 22, "#2f2f32", "#38383b", 2); T(1327, 622, "T", 12.5, "#6a6a6a", "center", "bold");
  chev(1306, 618, "#7a7a7a", 3); chev(1306, 625, "#7a7a7a", 3);
  R(1205, 640, 13, 13, "#303033", "#38383b", 3); T(1223, 647, "SL", 12.5, "#d0d0d0", "left", "bold"); chev(1246, 647, "#c8c8c8");
  R(1255, 636, 60, 22, "#2f2f32", "#38383b", 2); T(1299, 647, "10", 12.5, "#6a6a6a", "right", "bold");
  R(1317, 636, 20, 22, "#2f2f32", "#38383b", 2); T(1327, 647, "T", 12.5, "#6a6a6a", "center", "bold");
  chev(1306, 643, "#7a7a7a", 3); chev(1306, 650, "#7a7a7a", 3);
  btn(1205, 674, 132, 28, "#125c90", "Edit", "#8fb6d0");
  toggle(1205, 728, true); T(1241, 728, "Trading on chart", 12.5, "#c8c8c8");

  /* heatmap window */
  R(1352, 29, 561, 1007, "#141a26", "#3c3c3e", 0, -1, 3);
  R(1354, 31, 557, 28, "#2e2e30");
  logo(1365, 45, 7.5); phone(1385, 45);
  T(1397, 45, "#NQU6", 12.5, "#d0d0d0"); L([[1445, 34], [1445, 56]], "#47474a");
  T(1452, 45, "View", 12.5, "#d0d0d0"); tri(1488, 45);
  T(1498, 45, "Heatmap", 12.5, "#d0d0d0"); tri(1556, 45);
  C(1792, 48, 4); C(1800, 43, 4); tri(1815, 45);
  R(1826, 40, 14, 11, "none", "#b8b8b8", 2); C(1833, 45.5, 2.5); tri(1851, 45);
  C(1869, 45, 5.5, "#b8b8b8", "none", 1.6); C(1869, 45, 2);
  L([[1893, 41], [1901, 49]], "#6a6a6a", 1.4); L([[1901, 41], [1893, 49]], "#6a6a6a", 1.4);
  R(1873, 60, 15, 16, "none", "#c0c0c0"); T(1880.5, 68, "A", 11, "#d0d0d0", "center");

  /* overlay text above the main plot */
  T(40, 74, "Powered by dxFeed", 12.5, "#8a8a8a", "left", "normal", UI, 20);
  T(117, 209, "VAH", 11.5, "#b8b8b8", "left", "normal", ARIAL, 20);
  T(118, 758, "VAL", 11.5, "#b8b8b8", "left", "normal", ARIAL, 20);
  T(110, 519, "vPOC", 12, "#a01010", "left", "normal", ARIAL, 20);
  R(1085, 63, 21, 20, "#000000", "#ffffff", 0, 20, 1.5);
  T(1130, 84, "yPOC", 10.5, "#b0b0b0", "right", "normal", ARIAL, 22);
  T(1129, 450, "yVAL", 11, "#d98040", "right", "normal", ARIAL, 20);
  els.push({ type: "polygon", ...base(21), shape: { points: [[1091, 67], [1099, 73], [1091, 79]] }, style: { fill: "#ffffff" } });
  L([[1101, 67], [1101, 79]], "#ffffff", 2, 21);
  R(1175, 64, 12, 11, "#000000", "#9a9a9a", 0, 20); T(1181, 70, "F", 9, "#a0a0a0", "center", "normal", ARIAL, 21);
  return els;
}

const slots = Array.from({ length: 233 }, (_, i) => timeLabels[i] || "");
const fadeBg = "#191a2b";

function buildOption() {
  const orangeR = (p: number) => (p < 30538.8 ? "#14296b" : p <= 30622 && p > 30594.6 ? "#c88c55" : p > 30706.4 ? "#c08548" : "#b8733a");
  const spikeR = (p: number) => (p < 30538.8 ? "#16306e" : "#a9683a");
  const dk = (_p: number, k?: string) => (k === "g" ? GREEN : PURPLE);
  const dkBase = (k: string) => (k === "g" ? "#26503e" : "#2a1a60");
  const navy = "#5853b0";
  const c1x = 548.5, c2x = 674.2, rx = 1014.2;

  const profileRows: Rect[] = [
    ...steps(leftGrayBody, 30645, 0, 1, () => "#1b1b1b"), ...spikes(leftGraySpikes, 0, 1, () => "#181818"),
    ...spikes(leftBlueSpikes, 0, 1, () => "#45418f"), ...steps(leftBlueBody, 30403.6, 0, 1, () => navy),
    ...steps(leftLowerBody, 30385, 0, 1, () => "#1b1b1b"), ...spikes(leftLowerSpikes, 0, 1, () => "#1b1b1b"),
  ];
  const centreRows: Rect[] = [
    ...steps(c1GrayTop, 30567.4, c1x, 1, () => "#4a4a4a"), ...spikes(c1GraySpikes, c1x, 1, () => "#4a4a4a"), ...steps(c1GrayLow, 30386, c1x, 1, () => "#4a4a4a"),
    ...spikes(c1OrangeSpikes, c1x, 1, () => "#a86d00"), ...steps(c1Orange, 30482.7, c1x, 1, () => "#bb7a00"),
    ...spikes(c1Delta, c1x, -1, dk), [c1x - 3, c1x, 30576.3, 30386, "#0f7d22"],
    ...steps(c2Gray, 30519.6, c2x, 1, () => "#4a4a4a"), ...steps(c2Orange, 30545.5, c2x, 1, () => "#bb7a00"),
    ...spikes(c2Delta, c2x, -1, dk), [c2x - 2, c2x, 30575.7, 30519.6, "#0f7d22"],
  ];
  const rightRows: Rect[] = [
    ...spikes(rightSpikes, rx, -1, spikeR), ...steps(rightBody, 30388.9, rx, -1, orangeR), ...steps(rightDelta, 30388.9, rx, 1, (p) => dkBase((rightDelta.find((d) => d[0] === p) as any)[2])),
    ...spikes(rightDeltaSpikes, rx, 1, dk), [rx - 0.5, rx + 1, 30713, 30389, "#5e8a58"],
  ];

  const gridMain = 0, gridHeat = 1;
  const vertGrad = (c: string) => ({ type: "linear", x: 0, y: 0, x2: 0, y2: 1, colorStops: [{ offset: 0, color: "rgba(25,26,43,0)" }, { offset: 0.22, color: c }, { offset: 0.78, color: c }, { offset: 1, color: "rgba(25,26,43,0)" }] });
  const heatStops = [[0, "rgba(10,60,90,0)"], [0.08, "#0a5478"], [0.2, "#1a8cc0"], [0.25, "#cfe8e0"], [0.28, "#ffe600"], [0.34, "#ff8a00"], [0.4, "#d80000"], [0.5, "#9c0000"], [0.6, "#d80000"], [0.66, "#ff8a00"], [0.72, "#ffe600"], [0.75, "#cfe8e0"], [0.8, "#1a8cc0"], [0.92, "#0a5478"], [1, "rgba(10,60,90,0)"]].map(([offset, color]) => ({ offset, color }));
  const fade = (a: number) => ({ type: "linear", x: 0, y: 0, x2: 1, y2: 0, colorStops: [{ offset: 0, color: "rgba(25,26,43,0)" }, { offset: 1, color: `rgba(25,26,43,${a})` }] });

  const series: any[] = [
    rectSeries(zones.map((z) => [0, FW, z[0], z[1], z[2]] as Rect), 1),
    {
      type: "candlestick", xAxisIndex: 0, yAxisIndex: 0, z: 2, barWidth: 3.4, silent: true,
      itemStyle: { color: "#0a9a80", color0: "#6a0fe0", borderColor: "#0a9a80", borderColor0: "#6a0fe0", borderWidth: 1 },
      data: candles.map((c, i) => (i === 81 ? { value: c, itemStyle: { color: "#888888", borderColor: "#888888" } } : c)),
    },
    { ...rectSeries(profileRows, 3, 1, 0, 0.9) },
    { ...rectSeries(centreRows, 3, 1, 0, 0.92) },
    { ...rectSeries(rightRows, 3, 1, 0, 1) },
    { type: "line", xAxisIndex: 1, yAxisIndex: 0, z: 4, data: vwap, showSymbol: false, silent: true, lineStyle: { color: "#2e2aa8", width: 1.4 } },
    {
      type: "custom", coordinateSystem: "cartesian2d", xAxisIndex: 1, yAxisIndex: 0, z: 4, silent: true,
      data: segments.map((s) => [s[0], s[1]]),
      renderItem: (p: any, api: any) => {
        const s = segments[p.dataIndex];
        const a = api.coord([s[0], s[1]]), b = api.coord([s[2], s[3]]);
        return { type: "line", shape: { x1: a[0], y1: a[1], x2: b[0], y2: b[1] }, style: { stroke: s[4], lineWidth: s[5], lineDash: s[6] || undefined } };
      },
    },
    rectSeries(boxes.map((b) => [b[0], b[1], b[2], b[3], b[4] === "g" ? "#4caf50" : "#ef5350"] as Rect), 5, 1, 0, 1, { stroke: (r: Rect) => (r[4] === "#4caf50" ? "#3f9a44" : "#e04a48") }),
    {
      type: "scatter", xAxisIndex: 1, yAxisIndex: 0, z: 7, data: handles, symbolSize: 14, silent: true,
      itemStyle: { color: "#ffc8c4", borderColor: "#1f55e0", borderWidth: 2, opacity: 1 },
    },
    {
      type: "custom", coordinateSystem: "cartesian2d", xAxisIndex: 1, yAxisIndex: 0, z: 8, silent: true,
      data: priceTags.map((t) => [FW, t[0]]),
      renderItem: (p: any, api: any) => {
        const t = priceTags[p.dataIndex];
        const c = api.coord([FW, t[0]]);
        const x = c[0], y = c[1];
        return {
          type: "group",
          children: [
            { type: "polygon", shape: { points: [[x, y], [x + 5, y - 6.5], [x + 57, y - 6.5], [x + 57, y + 6.5], [x + 5, y + 6.5]] }, style: { fill: t[2] } },
            ...(t[1] ? [{ type: "text", x: x + 31, y, style: { text: t[1], fill: t[3], font: `12px ${ARIAL}`, align: "center", textAlign: "center", verticalAlign: "middle", textVerticalAlign: "middle" } }] : []),
          ],
        };
      },
    },

    /* heatmap */
    {
      type: "custom", coordinateSystem: "cartesian2d", xAxisIndex: 3, yAxisIndex: 1, z: 2, silent: true, clip: true,
      data: heatBands.map((b) => [b[0], b[2]]),
      renderItem: (p: any, api: any) => {
        const b = heatBands[p.dataIndex];
        const a = api.coord([b[0], b[2]]), c = api.coord([b[1], b[3]]);
        return { type: "rect", shape: { x: a[0], y: a[1], width: c[0] - a[0], height: c[1] - a[1] }, style: { fill: vertGrad(b[4]) } };
      },
    },
    {
      type: "custom", coordinateSystem: "cartesian2d", xAxisIndex: 3, yAxisIndex: 1, z: 2, silent: true,
      data: [[bigBand[0], bigBand[2]]],
      renderItem: (_p: any, api: any) => {
        const a = api.coord([bigBand[0], bigBand[2]]), c = api.coord([bigBand[1], bigBand[3]]);
        return { type: "rect", shape: { x: a[0], y: a[1], width: c[0] - a[0], height: c[1] - a[1] }, style: { fill: { type: "linear", x: 0, y: 0, x2: 0, y2: 1, colorStops: heatStops } } };
      },
    },
    {
      type: "custom", coordinateSystem: "cartesian2d", xAxisIndex: 3, yAxisIndex: 1, z: 3, silent: true,
      data: [[0, 30700], [0, 30400]],
      renderItem: (p: any, api: any) => {
        const big = p.dataIndex === 1;
        const a = api.coord(big ? [405, bigBand[2] + 0.5] : [455, 30706]);
        const c = api.coord(big ? [472, bigBand[3] - 0.5] : [474, 30540]);
        return { type: "rect", shape: { x: a[0], y: a[1], width: c[0] - a[0], height: c[1] - a[1] }, style: { fill: fade(1) } };
      },
    },
    {
      type: "custom", coordinateSystem: "cartesian2d", xAxisIndex: 3, yAxisIndex: 1, z: 3, silent: true,
      data: [[472, 30400]],
      renderItem: (_p: any, api: any) => {
        const a = api.coord([472, bigBand[2] + 0.5]), c = api.coord([484, bigBand[3] - 0.5]);
        return { type: "rect", shape: { x: a[0], y: a[1], width: c[0] - a[0], height: c[1] - a[1] }, style: { fill: fadeBg } };
      },
    },
    polySeries(domAsk1, "#e8335a", 4), polySeries(domAsk2, "#e8335a", 4), polySeries(domAsk3, "#e8335a", 4), polySeries(domBid1, "#0d9a80", 4), polySeries(domBid2, "#0d9a80", 4),
    {
      type: "custom", coordinateSystem: "cartesian2d", xAxisIndex: 2, yAxisIndex: 1, z: 5, silent: true,
      data: heatTimes.map((t) => [t, 30500]),
      renderItem: (p: any, api: any) => {
        const t = heatTimes[p.dataIndex];
        const a = api.coord([t, 30713.2]), b = api.coord([t, 30304.7]);
        return { type: "line", shape: { x1: a[0], y1: a[1], x2: b[0], y2: b[1] }, style: { stroke: "#55555f", lineWidth: 1, lineDash: [4, 4] } };
      },
    },
    { type: "line", xAxisIndex: 2, yAxisIndex: 1, z: 6, data: bidLine, showSymbol: false, silent: true, lineStyle: { color: "#e8335a", width: 2.6 } },
    { type: "line", xAxisIndex: 2, yAxisIndex: 1, z: 6, data: askLine, showSymbol: false, silent: true, lineStyle: { color: "#0d9a80", width: 2.6 } },
    {
      type: "custom", coordinateSystem: "cartesian2d", xAxisIndex: 2, yAxisIndex: 1, z: 6, silent: true,
      data: tailDashes.map((d) => [d[0], bidTailPrice]),
      renderItem: (p: any, api: any) => {
        const d = tailDashes[p.dataIndex];
        const mk = (price: number, stroke: string) => {
          const a = api.coord([d[0], price]), b = api.coord([d[1], price]);
          return { type: "line", shape: { x1: a[0], y1: a[1], x2: b[0], y2: b[1] }, style: { stroke, lineWidth: 2.6, opacity: d[2] } };
        };
        return { type: "group", children: [mk(bidTailPrice, "#e8335a"), mk(askTailPrice, "#0d9a80")] };
      },
    },
    {
      type: "scatter", xAxisIndex: 2, yAxisIndex: 1, z: 7, silent: true,
      data: bubbles.map((b) => ({
        value: [b[0], b[1]], symbolSize: b[2],
        itemStyle: { color: { type: "radial", x: 0.5, y: 0.5, r: 0.55, colorStops: b[3] === "r" ? [{ offset: 0, color: "#e2607e" }, { offset: 0.65, color: "#c22a50" }, { offset: 1, color: "#86203e" }] : [{ offset: 0, color: "#2aa88e" }, { offset: 0.6, color: "#0d7c68" }, { offset: 1, color: "#0b4a40" }] } },
      })),
    },
    {
      type: "bar", xAxisIndex: 2, yAxisIndex: 2, z: 4, barWidth: 16, silent: true,
      data: tradeBars.map((b) => ({
        value: [b[0], b[1]],
        itemStyle: { color: b[2] === "g" ? "#0e6e5e" : "#bd2f4e" },
        label: b[1] === 7 ? { position: "insideTop", distance: 1, backgroundColor: "#7a2a42" } : undefined,
      })),
      label: { show: true, position: "top", distance: 1, color: "#e8e8e8", fontSize: 12, fontFamily: ARIAL, backgroundColor: "#101018", borderRadius: 3, padding: [2, 4], formatter: (p: any) => String(p.value[1]) },
    },
    {
      type: "custom", coordinateSystem: "cartesian2d", xAxisIndex: 2, yAxisIndex: 2, z: 4, silent: true,
      data: [edgeBar],
      renderItem: (_p: any, api: any) => {
        const a = api.coord(edgeBar), b = api.coord([edgeBar[0], 0]);
        return {
          type: "group",
          children: [
            { type: "rect", shape: { x: a[0], y: a[1], width: 1.5, height: b[1] - a[1] }, style: { fill: "#bd2f4e" } },
            { type: "rect", shape: { x: a[0] + 1, y: a[1] - 17, width: 13, height: 15, r: 3 }, style: { fill: "#101018" } },
            { type: "text", x: a[0] + 7.5, y: a[1] - 9.5, style: { text: String(edgeBar[1]), fill: "#e8e8e8", font: `12px ${ARIAL}`, align: "center", textAlign: "center", verticalAlign: "middle", textVerticalAlign: "middle" } },
          ],
        };
      },
    },
    {
      type: "custom", coordinateSystem: "cartesian2d", xAxisIndex: 3, yAxisIndex: 1, z: 8, silent: true,
      data: domBadges.map((b) => [490, b[0]]),
      renderItem: (p: any, api: any) => {
        const b = domBadges[p.dataIndex];
        const two = b[1].length > 1;
        const c = api.coord([two ? 487.5 : 490, b[0]]);
        return {
          type: "group",
          children: [
            { type: "rect", shape: { x: c[0] - (two ? 7 : 4.5), y: c[1] - 5.5, width: two ? 14 : 9, height: 11, r: 4 }, style: { fill: b[2] } },
            { type: "text", x: c[0], y: c[1], style: { text: b[1], fill: "#e4e4e4", font: 'bold 9px "DejaVu Sans Mono", monospace', align: "center", textAlign: "center", verticalAlign: "middle", textVerticalAlign: "middle" } },
          ],
        };
      },
    },
    {
      type: "custom", coordinateSystem: "cartesian2d", xAxisIndex: 2, yAxisIndex: 1, z: 8, silent: true,
      data: [[1437.68, 30500]],
      renderItem: (_p: any, api: any) => {
        const a = api.coord([1437.68, 30713.2]), b = api.coord([1437.68, 30304.7]);
        return { type: "line", shape: { x1: a[0], y1: a[1], x2: b[0], y2: b[1] }, style: { stroke: "#c9b82f", lineWidth: 1.6 } };
      },
    },
    {
      type: "custom", coordinateSystem: "cartesian2d", xAxisIndex: 3, yAxisIndex: 1, z: 9, silent: true,
      data: [[498, 30590]],
      renderItem: (_p: any, api: any) => {
        const c = api.coord([498, 30590]);
        const x = c[0], y = c[1];
        return {
          type: "group",
          children: [
            { type: "polygon", shape: { points: [[x, y], [x + 6, y - 8], [x + 61, y - 8], [x + 61, y + 8], [x + 6, y + 8]] }, style: { fill: "#ffffff" } },
            { type: "text", x: x + 33, y, style: { text: "30590,00", fill: "#222222", font: `11.5px ${ARIAL}`, align: "center", textAlign: "center", verticalAlign: "middle", textVerticalAlign: "middle" } },
          ],
        };
      },
    },
  ];

  const hidden = { show: false, splitLine: { show: false } };
  return {
    animation: false,
    backgroundColor: "#252527",
    graphic: { elements: buildChrome() },
    grid: [
      { left: 37.5, top: 61, width: 1092.8, height: 931, show: true, backgroundColor: "#000000", borderWidth: 0 },
      { left: 1353, top: 59, width: 498, height: 945, show: true, backgroundColor: fadeBg, borderWidth: 0 },
    ],
    xAxis: [
      { type: "category", gridIndex: gridMain, data: slots, axisLine: { show: false }, axisTick: { show: false }, splitLine: { show: false },
        axisLabel: { interval: (_i: number, v: string) => v !== "", color: "#9a9a9a", fontSize: 12, fontFamily: ARIAL, margin: 4, padding: [0, 0, 0, 4], hideOverlap: false } },
      { type: "value", gridIndex: gridMain, min: 0, max: FW, ...hidden },
      { type: "value", gridIndex: gridHeat, min: 1412.17, max: 1442.17, splitLine: { show: false },
        axisLine: { show: true, onZero: false, lineStyle: { color: "#4d4d55", width: 2 } },
        axisTick: { show: true, length: 4, customValues: heatTimes, lineStyle: { color: "#6a6a72" } },
        axisLabel: { customValues: heatTimes, color: "#c8c8c8", fontSize: 12, fontFamily: ARIAL, margin: 8, formatter: (v: number) => { const m = v - 1380; const h = Math.floor(m / 60); return `${String(23 + h)}:${String(m - h * 60).padStart(2, "0")}`; } } },
      { type: "value", gridIndex: gridHeat, min: 0, max: 498, ...hidden },
    ],
    yAxis: [
      { type: "value", gridIndex: gridMain, position: "right", min: 30303.8, max: 30713, splitLine: { show: false }, axisLine: { show: false }, axisTick: { show: false },
        axisLabel: { customValues: priceTicks, color: "#9a9a9a", fontSize: 12, fontFamily: ARIAL, margin: 8, formatter: (v: number) => v.toFixed(2) } },
      { type: "value", gridIndex: gridHeat, position: "right", min: 30304.7, max: 30713.2, splitLine: { show: false },
        axisLine: { show: true, onZero: false, lineStyle: { color: "#4d4d55", width: 2 } },
        axisTick: { show: true, length: 4, customValues: heatTicks, lineStyle: { color: "#6a6a72" } },
        axisLabel: { customValues: heatTicks, color: "#c8c8c8", fontSize: 12, fontFamily: ARIAL, margin: 8, formatter: (v: number) => v.toFixed(2).replace(".", ",") } },
      { type: "value", gridIndex: gridHeat, min: 0, max: 47, ...hidden },
    ],
    series,
  };
}

export default function App() {
  const ref = useRef<HTMLDivElement>(null);
  useEffect(() => {
    document.body.style.margin = "0";
    document.body.style.background = "#252527";
    const chart = echarts.init(ref.current as HTMLDivElement, undefined, { renderer: "svg" });
    chart.setOption(buildOption() as any);
    return () => chart.dispose();
  }, []);
  return <div ref={ref} style={{ width: 1920, height: 1040 }} />;
}
